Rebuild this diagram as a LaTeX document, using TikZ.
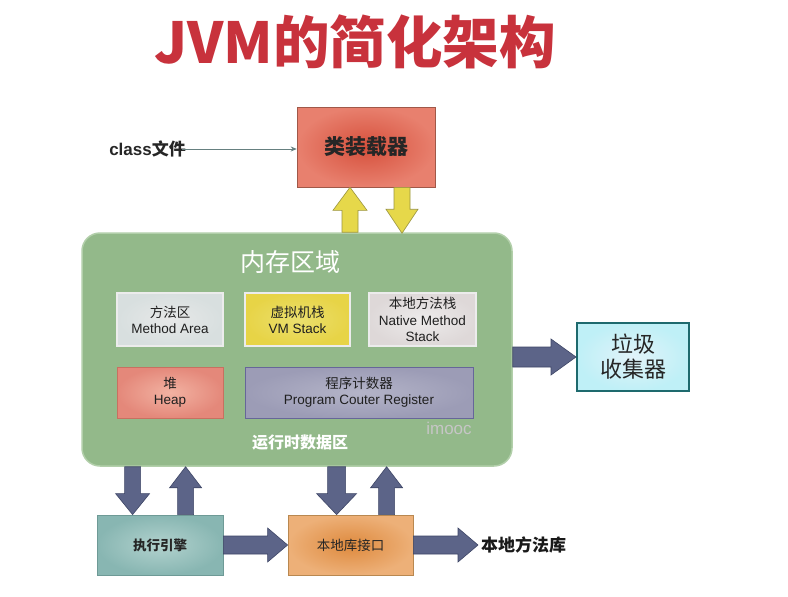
\documentclass[tikz,border=0pt]{standalone}
\usepackage{fontspec}
\setmainfont{Liberation Sans}
\newfontfamily\cjk{Noto Sans CJK SC}
\usetikzlibrary{calc,arrows.meta}
\newcommand\fsz[2]{\fontsize{#1}{#2}\selectfont}
% block arrow: style, from, to, shaft half width, head half width, head length
\newcommand\blockarrow[6]{%
  \coordinate (ba-n) at ($(#3)!#6!(#2)$);
  \draw[#1] ($(#2)!#4!90:(#3)$) -- ($(ba-n)!#4!90:(#3)$) -- ($(ba-n)!#5!90:(#3)$)
    -- (#3) -- ($(ba-n)!#5!-90:(#3)$) -- ($(ba-n)!#4!-90:(#3)$) -- ($(#2)!#4!-90:(#3)$) -- cycle;}
\definecolor{titlered}{HTML}{C8323C}
\definecolor{memgreen}{HTML}{93B98A}
\definecolor{memedge}{HTML}{B2CFAA}
\definecolor{darkarrow}{HTML}{5C6488}
\definecolor{darkedge}{HTML}{3E4666}
\definecolor{yel}{HTML}{E6D84A}
\definecolor{yeledge}{HTML}{9A9440}
\definecolor{gcfill}{HTML}{D4EEF6}
\definecolor{gcedge}{HTML}{1E6A6E}
\definecolor{ldin}{HTML}{D6503C}
\definecolor{ldout}{HTML}{E8806E}
\definecolor{ldedge}{HTML}{A05848}
\definecolor{exin}{HTML}{B2D2CE}
\definecolor{exout}{HTML}{88B6B2}
\definecolor{exedge}{HTML}{6E9A96}
\definecolor{nlin}{HTML}{DE8A3E}
\definecolor{nlout}{HTML}{EDB078}
\definecolor{nledge}{HTML}{B98850}
\definecolor{hpin}{HTML}{F2B2A2}
\definecolor{hpout}{HTML}{E4887A}
\definecolor{hpedge}{HTML}{C87060}
\definecolor{pcin}{HTML}{B4B4C8}
\definecolor{pcout}{HTML}{9C9CB6}
\begin{document}
\begin{tikzpicture}[x=1pt,y=-1pt,
  box/.style={rectangle, inner sep=0pt, align=center},
  inbox/.style={box, draw=white!85!gray, line width=1.5pt, text=black!88},
  darr/.style={fill=darkarrow, draw=darkedge, line width=0.6pt},
  yarr/.style={fill=yel, draw=yeledge, line width=0.6pt}]
\path[use as bounding box, fill=white] (0,0) rectangle (788,597);
% title
\node[text=titlered, font=\cjk\bfseries\fsz{56.5}{62}] (title) at (355,42) {JVM的简化架构};
% class loader
\node[box, draw=ldedge, line width=0.6pt, inner color=ldin, outer color=ldout,
  minimum width=138pt, minimum height=80pt, font=\cjk\bfseries\fsz{21}{24}, text=black!85] (loader) at (366,147) {类装载器};
\node[anchor=east, inner sep=0pt, font=\bfseries\fsz{17}{20}, text=black!85] (cls) at (186,149) {class{\cjk 文件}};
\draw[draw=gray!80!teal, line width=0.8pt, -{Stealth[length=6pt,width=5pt]}] ([xshift=-4pt]cls.east) -- (cls.east -| loader.west);
% memory area
\node[box, fill=memgreen, draw=memedge, line width=1.5pt, rounded corners=18pt,
  minimum width=430pt, minimum height=233pt] (mem) at (297,349.5) {};
\node[text=white, font=\cjk\fsz{25}{28}] (memt) at (290,262) {内存区域};
\node[text=white, font=\cjk\bfseries\fsz{16}{18}] (rt) at (300,443) {运行时数据区};
\node[text=white!55!gray, font=\fsz{17}{20}] (wm) at (449,428) {imooc};
\node[inbox, inner color=white!80!cyan!10!gray!20, outer color=cyan!10!gray!28,
  minimum width=106pt, minimum height=53pt, font=\fsz{13.5}{16}] (ma) at (170,319.5) {{\cjk 方法区}\\Method Area};
\node[inbox, inner color=yel!80!white, outer color=yel!95!orange, minimum width=105pt, minimum height=53pt, font=\fsz{13.5}{16}] (vm) at (297.5,319.5) {{\cjk 虚拟机栈}\\VM Stack};
\node[inbox, inner color=red!4!gray!15, outer color=red!8!gray!28, minimum width=107pt, minimum height=53pt, font=\fsz{13.5}{16.5}] (ns) at (422.5,319.5) {{\cjk 本地方法栈}\\Native Method\\Stack};
\node[inbox, draw=hpedge, line width=1pt, inner color=hpin, outer color=hpout, minimum width=106pt, minimum height=51pt, font=\fsz{13.5}{16}] (heap) at (170,392.5) {{\cjk 堆}\\Heap};
\node[inbox, draw=gray!80!blue, line width=1pt, inner color=pcin, outer color=pcout, minimum width=228pt, minimum height=51pt, font=\fsz{13.5}{16}] (pcr) at (359,392.5) {{\cjk 程序计数器}\\Program Couter Register};
% garbage collector
\node[box, inner color=gcfill!70!white, outer color=gcfill!90!cyan, draw=gcedge, line width=2pt, minimum width=112pt, minimum height=68pt,
  font=\cjk\fsz{22}{25}, text=black!85] (gc) at (633,357) {垃圾\\收集器};
% bottom boxes
\node[box, inner color=exin, outer color=exout, draw=exedge, line width=0.8pt, minimum width=126pt, minimum height=60pt,
  font=\cjk\bfseries\fsz{13.5}{16}, text=black!85] (exe) at (160,545) {执行引擎};
\node[box, inner color=nlin, outer color=nlout, draw=nledge, line width=0.8pt, minimum width=125pt, minimum height=60pt,
  font=\cjk\fsz{13.5}{16}, text=black!85] (nli) at (350.5,545) {本地库接口};
\node[anchor=west, inner sep=0pt, font=\cjk\bfseries\fsz{17}{20}, text=black!90] (nlib) at (481,545) {本地方法库};
% yellow arrows
\coordinate (y1a) at ([xshift=-16pt]loader.south |- mem.north);
\coordinate (y1b) at ([xshift=-16pt]loader.south);
\coordinate (y2a) at ([xshift=36pt]loader.south);
\coordinate (y2b) at ([xshift=36pt,yshift=-1pt]loader.south |- mem.north);
\blockarrow{yarr}{y1a}{y1b}{8pt}{17pt}{23pt}
\blockarrow{yarr}{y2a}{y2b}{8pt}{16pt}{24pt}
% arrow to gc
\coordinate (g1) at (mem.east |- gc.west);
\blockarrow{darr}{g1}{gc.west}{10pt}{18pt}{25pt}
% bottom arrows
\coordinate (d1a) at ([xshift=36pt]exe.north west |- mem.south);
\coordinate (d1b) at ([xshift=36pt]exe.north west);
\coordinate (u1a) at ([xshift=89pt]exe.north west);
\coordinate (u1b) at ([xshift=89pt]exe.north west |- mem.south);
\coordinate (d2a) at ([xshift=49pt]nli.north west |- mem.south);
\coordinate (d2b) at ([xshift=49pt]nli.north west);
\coordinate (u2a) at ([xshift=99pt]nli.north west);
\coordinate (u2b) at ([xshift=99pt]nli.north west |- mem.south);
\blockarrow{darr}{d1a}{d1b}{8pt}{17pt}{21pt}
\blockarrow{darr}{u1a}{u1b}{8pt}{16pt}{21pt}
\blockarrow{darr}{d2a}{d2b}{9pt}{20pt}{21pt}
\blockarrow{darr}{u2a}{u2b}{8pt}{16pt}{21pt}
\coordinate (h2b) at ([xshift=-3pt]nlib.west);
\blockarrow{darr}{exe.east}{nli.west}{9pt}{17pt}{20pt}
\blockarrow{darr}{nli.east}{h2b}{9pt}{17pt}{20pt}
\end{tikzpicture}
\end{document}
